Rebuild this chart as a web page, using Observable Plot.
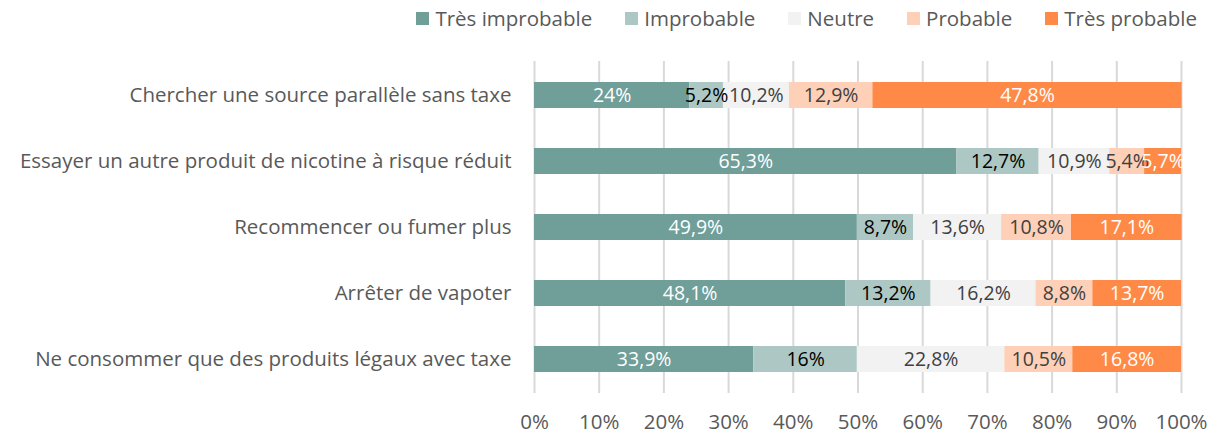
<!DOCTYPE html>
<html>
<head>
<meta charset="utf-8">
<script src="https://cdn.jsdelivr.net/npm/d3@7"></script>
<script src="https://cdn.jsdelivr.net/npm/@observablehq/plot@0.6"></script>
<style>
  html, body { margin: 0; padding: 0; background: #fff; }
  body { width: 1212px; height: 438px; overflow: hidden; font-family: "Open Sans", sans-serif; }
  #legend { height: 36px; display: flex; align-items: center; justify-content: flex-end; padding-right: 15px; font-size: 20.5px; color: #595959; }
  #legend .item { display: flex; align-items: center; margin-left: 33px; }
  #legend .sw { width: 13px; height: 13px; margin-right: 6px; }
  svg text { font-family: "Open Sans", sans-serif; }
</style>
</head>
<body>
<div id="legend"></div>
<div id="chart"></div>
<script>
const categories = [
  "Chercher une source parallèle sans taxe",
  "Essayer un autre produit de nicotine à risque réduit",
  "Recommencer ou fumer plus",
  "Arrêter de vapoter",
  "Ne consommer que des produits légaux avec taxe"
];
const series = ["Très improbable", "Improbable", "Neutre", "Probable", "Très probable"];
const tresImprobable = [24, 65.3, 49.9, 48.1, 33.9];
const improbable     = [5.2, 12.7, 8.7, 13.2, 16];
const neutre         = [10.2, 10.9, 13.6, 16.2, 22.8];
const probable       = [12.9, 5.4, 10.8, 8.8, 10.5];
const tresProbable   = [47.8, 5.7, 17.1, 13.7, 16.8];
const xTicks = [0, 10, 20, 30, 40, 50, 60, 70, 80, 90, 100];

const colors = ["#709e99", "#adc8c4", "#f2f2f2", "#fdd0b7", "#ff8a47"];
const labelColors = ["#ffffff", "#000000", "#404040", "#404040", "#ffffff"];

const valueArrays = [tresImprobable, improbable, neutre, probable, tresProbable];
const data = [];
categories.forEach((q, i) => {
  series.forEach((s, j) => data.push({question: q, series: s, value: valueArrays[j][i]}));
});
const fmt = v => String(v).replace(".", ",") + "%";

// Legend
const legend = document.getElementById("legend");
series.forEach((s, j) => {
  const item = document.createElement("div");
  item.className = "item";
  const sw = document.createElement("span");
  sw.className = "sw";
  sw.style.background = colors[j];
  const t = document.createElement("span");
  t.textContent = s;
  item.appendChild(sw);
  item.appendChild(t);
  legend.appendChild(item);
});

const textMarks = series.map((s, j) =>
  Plot.text(data, Plot.stackX({
    x: "value", y: "question", z: "series",
    order: series,
    text: d => d.series === s ? fmt(d.value) : null,
    fill: labelColors[j],
    fontSize: 19.5
  }))
);

const chart = Plot.plot({
  width: 1212,
  height: 402,
  marginTop: 25,
  marginBottom: 45,
  marginLeft: 534,
  marginRight: 31,
  style: {fontSize: "20.5px", color: "#595959", background: "#fff"},
  x: {domain: [0, 100], ticks: xTicks, tickFormat: d => d + "%", tickSize: 0, tickPadding: 21, label: null},
  y: {domain: categories, paddingInner: 0.6, paddingOuter: 0.3, tickSize: 0, tickPadding: 23, label: null},
  color: {domain: series, range: colors},
  marks: [
    Plot.gridX(xTicks, {stroke: "#d9d9d9", strokeOpacity: 1, strokeWidth: 2}),
    Plot.barX(data, Plot.stackX({x: "value", y: "question", fill: "series", order: series})),
    ...textMarks
  ]
});
document.getElementById("chart").appendChild(chart);
</script>
</body>
</html>
